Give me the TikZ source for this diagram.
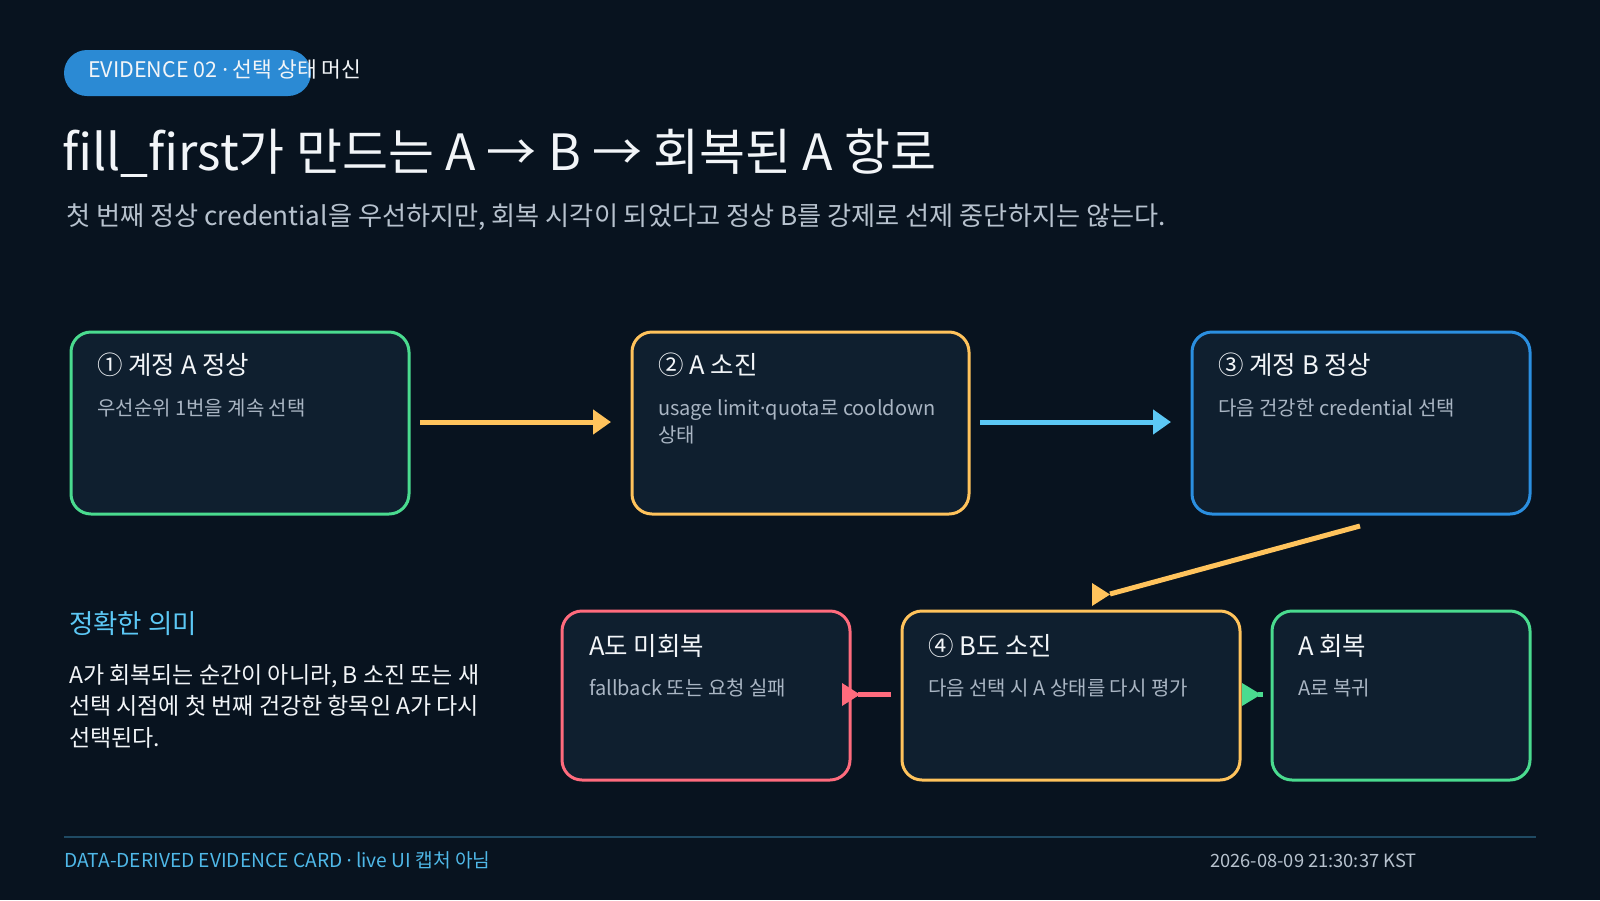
\documentclass[tikz,border=0pt]{standalone}
\usepackage{fontspec}
\setmainfont{Noto Sans CJK KR}
\newfontfamily\latinfont{Noto Sans}
\newcommand{\mdot}{{\latinfont ·}}
\usetikzlibrary{arrows.meta}
\definecolor{bg}{HTML}{08131F}
\definecolor{boxfill}{HTML}{0F1F2F}
\definecolor{cgreen}{HTML}{4ADB8F}
\definecolor{cyellow}{HTML}{FFC35C}
\definecolor{cblue}{HTML}{2B8FE0}
\definecolor{ccyan}{HTML}{5CC8F5}
\definecolor{cred}{HTML}{FF6B7D}
\definecolor{pill}{HTML}{2B8AD4}
\definecolor{txtw}{HTML}{F2F5F8}
\definecolor{txtg}{HTML}{B7C2CE}
\definecolor{txts}{HTML}{A9B5C3}
\definecolor{rule}{HTML}{1F4A63}
\definecolor{foot}{HTML}{4FB8E8}
\tikzset{
  card/.style={draw, line width=3pt, fill=boxfill, rounded corners=20pt, inner sep=0pt},
  ttl/.style={anchor=base west, inner sep=0pt, text=txtw, font=\fontsize{25.5}{30}\selectfont},
  sub/.style={anchor=base west, inner sep=0pt, text=txts, font=\fontsize{20}{27}\selectfont},
  para/.style={anchor=base west, inner sep=0pt, text=txtw, font=\fontsize{23}{31.5}\selectfont},
  conn/.style={line width=5pt},
  tip/.style={-{Triangle[length=18pt,width=24pt]}}
}
\begin{document}
\begin{tikzpicture}[x=1pt,y=-1pt]
\fill[bg] (0,0) rectangle (1600,900);
\useasboundingbox (0,0) rectangle (1600,900);
% pill
\fill[pill, rounded corners=23pt] (64,50) rectangle (311,96);
\node[anchor=base west, inner sep=0pt, text=txtw, font=\fontsize{21.5}{24}\selectfont] (pilltxt) at (88,77.5) {EVIDENCE 02 \mdot{} 선택 상태 머신};
% title
\node[anchor=base west, inner sep=0pt, text=txtw, font=\fontsize{50}{58}\selectfont] (title) at (62,170) {fill\_first가 만드는 A → B → 회복된 A 항로};
\node[anchor=base west, inner sep=0pt, text=txtg, font=\fontsize{26.2}{30}\selectfont] (subtitle) at (66,225) {첫 번째 정상 credential을 우선하지만, 회복 시각이 되었다고 정상 B를 강제로 선제 중단하지는 않는다.};
% top row cards
\path[card, draw=cgreen] (71,332) rectangle (409,514);
\path[card, draw=cyellow] (632,332) rectangle (969,514);
\path[card, draw=cblue] (1192,332) rectangle (1530,514);
\node[ttl] (t1) at (97,374) {① 계정 A 정상};
\node[sub] (s1) at (97,415) {우선순위 1번을 계속 선택};
\node[ttl] (t2) at (658,374) {② A 소진};
\node[sub] (s2) at (658,415) {usage limit\mdot quota로 cooldown};
\node[sub] (s2b) at (658,442) {상태};
\node[ttl] (t3) at (1218,374) {③ 계정 B 정상};
\node[sub] (s3) at (1218,415) {다음 건강한 credential 선택};
% bottom row cards
\path[card, draw=cred] (562,611) rectangle (850,780);
\path[card, draw=cyellow] (902,611) rectangle (1240,780);
\path[card, draw=cgreen] (1272,611) rectangle (1530,780);
\node[ttl] (t5) at (589,655) {A도 미회복};
\node[sub] (s5) at (589,695) {fallback 또는 요청 실패};
\node[ttl] (t4) at (928,655) {④ B도 소진};
\node[sub] (s4) at (928,695) {다음 선택 시 A 상태를 다시 평가};
\node[ttl] (t6) at (1298,655) {A 회복};
\node[sub] (s6) at (1298,695) {A로 복귀};
% connectors
\coordinate (a1s) at (420,422); \coordinate (a1e) at (611,422);
\draw[conn, cyellow, tip] (a1s) -- (a1e);
\coordinate (a2s) at (980,422); \coordinate (a2e) at (1171,422);
\draw[conn, ccyan, tip] (a2s) -- (a2e);
\coordinate (a3s) at (1360,526); \coordinate (a3e) at (1110,594);
\draw[conn, cyellow] (a3s) -- (a3e);
\fill[cyellow] (1092,583) -- (1110,594.5) -- (1092,606) -- cycle;
\coordinate (a4s) at (891,694.5); \coordinate (a4e) at (858,694.5);
\draw[conn, cred] (a4s) -- (a4e);
\fill[cred] (842,683) -- (860,694.5) -- (842,706) -- cycle;
\coordinate (a5s) at (1258,694.5); \coordinate (a5e) at (1263,694.5);
\draw[conn, cgreen] (a5s) -- (a5e);
\fill[cgreen] (1242,683) -- (1261,694.5) -- (1242,706) -- cycle;
% meaning
\node[anchor=base west, inner sep=0pt, text=ccyan, font=\fontsize{26.5}{30}\selectfont] (mh) at (69,633) {정확한 의미};
\node[para] (m1) at (69,683) {A가 회복되는 순간이 아니라, B 소진 또는 새};
\node[para] (m2) at (69,714.5) {선택 시점에 첫 번째 건강한 항목인 A가 다시};
\node[para] (m3) at (69,746) {선택된다.};
% footer
\coordinate (r1) at (64,837); \coordinate (r2) at (1536,837);
\draw[rule, line width=2pt] (r1) -- (r2);
\node[anchor=base west, inner sep=0pt, text=foot, font=\fontsize{19.2}{22}\selectfont] (fl) at (64,867) {DATA-DERIVED EVIDENCE CARD \mdot{} live UI 캡처 아님};
\node[anchor=base west, inner sep=0pt, text=txtg, font=\fontsize{18.3}{22}\selectfont] (fr) at (1210,867) {2026-08-09 21:30:37 KST};
\end{tikzpicture}
\end{document}
